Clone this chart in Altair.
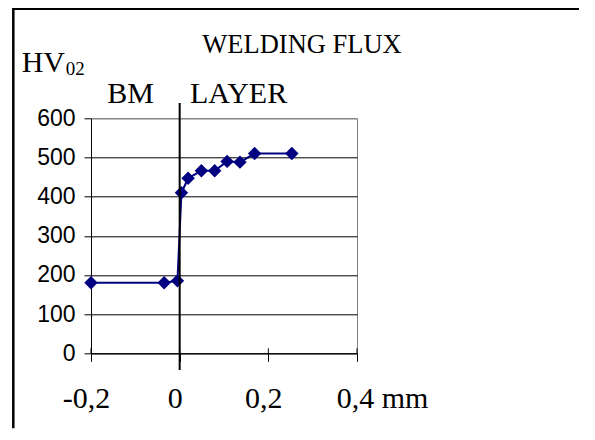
import altair as alt
import pandas as pd

# Data
depth_mm = [-0.2, -0.035, -0.005, 0.004, 0.019, 0.049, 0.079, 0.107, 0.136, 0.169, 0.253]
hardness_hv = [180, 180, 185, 410, 447, 466, 466, 490, 488, 510, 510]
x_ticks = [-0.2, 0.0, 0.2, 0.4]
x_tick_labels = ["-0,2", "0", "0,2", "0,4 mm"]
y_ticks = [0, 100, 200, 300, 400, 500, 600]

df = pd.DataFrame({"x": depth_mm, "hv": hardness_hv, "i": list(range(len(depth_mm)))})
ticks_df = pd.DataFrame({"x": x_ticks})
zero_df = pd.DataFrame({"x": [0.0]})

W, H = 266, 235
label_list = "[" + ",".join("'" + s + "'" for s in x_tick_labels) + "]"
label_expr = label_list + "[round((datum.value + 0.2) / 0.2)]"

xscale = alt.Scale(domain=[-0.2, 0.4], nice=False, zero=False)
yscale = alt.Scale(domain=[0, 600], nice=False, zero=False)

xaxis = alt.Axis(
    values=x_ticks, labelExpr=label_expr, title=None, grid=False,
    domainColor="#000000", domainWidth=1,
    tickColor="#000000", tickSize=8, tickWidth=1,
    labelFont="Liberation Serif", labelFontSize=30, labelColor="#000000",
    labelBaseline="alphabetic", labelPadding=46,
    labelOffset={"condition": {"test": "datum.value == 0.4", "value": 25}, "value": -5},
    labelFlush=False, labelOverlap=False,
)
yaxis = alt.Axis(
    values=y_ticks, tickCount=7, title=None, grid=True,
    gridColor={"condition": {"test": "datum.value == 600", "value": "#808080"}, "value": "#000000"},
    gridWidth=1,
    domainColor="#000000", domainWidth=1,
    tickColor="#000000", tickSize=7, tickWidth=1,
    labelFont="Liberation Sans", labelFontSize=23, labelColor="#000000",
    labelPadding=9, labelFlush=False, labelOverlap=False,
)

base = alt.Chart(df)
line = base.mark_line(color="#000080", strokeWidth=2).encode(
    x=alt.X("x:Q", scale=xscale, axis=xaxis),
    y=alt.Y("hv:Q", scale=yscale, axis=yaxis),
    order="i:Q",
)
points = base.mark_point(shape="diamond", filled=True, color="#000080", size=180, opacity=1).encode(
    x=alt.X("x:Q", scale=xscale, axis=xaxis),
    y=alt.Y("hv:Q", scale=yscale, axis=yaxis),
)
# long vertical boundary line at x=0
zero_rule = alt.Chart(zero_df).mark_rule(color="#000000", strokeWidth=2).encode(
    x=alt.X("x:Q", scale=xscale, axis=xaxis), y=alt.value(-15.3), y2=alt.value(251.7)
)
# upper part of the crossing x ticks
up_ticks = alt.Chart(ticks_df).mark_rule(color="#000000", strokeWidth=1).encode(
    x=alt.X("x:Q", scale=xscale, axis=xaxis), y=alt.value(H - 5), y2=alt.value(H)
)

def label(text, x, y, size, align="left"):
    return alt.Chart(pd.DataFrame({"t": [text]})).mark_text(
        font="Liberation Serif", fontSize=size, color="#000000",
        align=align, baseline="alphabetic",
    ).encode(text="t:N", x=alt.value(x), y=alt.value(y))

title_t = label("WELDING FLUX", 211, -65.6, 26.5, align="center")
hv_t = label("HV", -69.3, -46.6, 30)
sub_t = label("02", -25.3, -43.3, 19)
bm_t = label("BM", 16.3, -15, 30)
layer_t = label("LAYER", 99, -15, 30)

# outer chart frame: top and left edges
frame_df = pd.DataFrame({"k": [0]})
frame_left = alt.Chart(frame_df).mark_rule(color="#000000", strokeWidth=2.5).encode(
    x=alt.value(-77.7), x2=alt.value(-77.7), y=alt.value(-110.3), y2=alt.value(310)
)
frame_top = alt.Chart(frame_df).mark_rule(color="#000000", strokeWidth=2).encode(
    x=alt.value(-79), x2=alt.value(488), y=alt.value(-109.3), y2=alt.value(-109.3)
)

chart = alt.layer(
    line, points, zero_rule, up_ticks, title_t, hv_t, sub_t, bm_t, layer_t, frame_left, frame_top
).properties(
    width=W, height=H,
    autosize=alt.AutoSizeParams(type="none"),
    padding={"left": 83, "top": 110.3, "right": 226, "bottom": 76},
).configure_view(stroke="#808080", strokeWidth=1)

chart.save("out.html", embed_options={"renderer": "svg", "actions": False})
